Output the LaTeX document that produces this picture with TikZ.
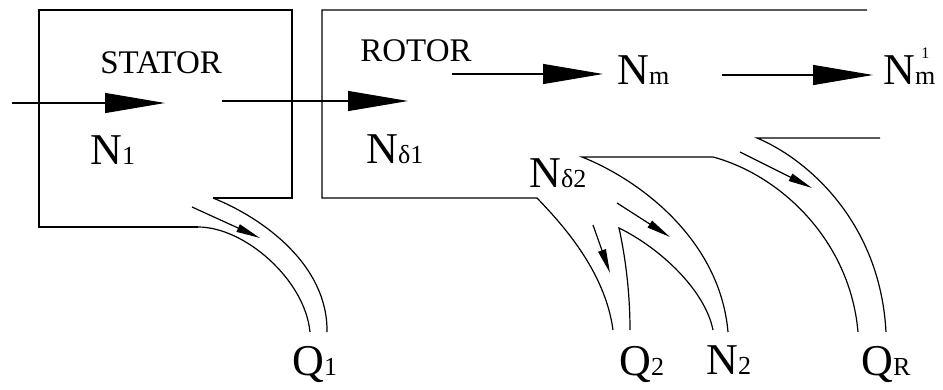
\documentclass[tikz,border=0pt]{standalone}
\usepackage{fontspec}
\setmainfont{Liberation Serif}
\usetikzlibrary{arrows.meta}

\newcommand{\bigsym}{\fontsize{22}{24}\selectfont}
\newcommand{\smallsym}{\fontsize{13}{14}\selectfont}
\newcommand{\flowsym}[2]{{\bigsym #1}{\smallsym #2}}

\begin{document}
\begin{tikzpicture}[
  x=0.5pt, y=-0.5pt,
  wall/.style={line width=0.6pt},
  flow/.style={line width=0.6pt, -{Triangle[length=30pt,width=10pt]}},
  loss/.style={line width=0.6pt, -{Triangle[length=12pt,width=4pt]}},
  part/.style={font=\fontsize{16.5}{18}\selectfont, inner sep=0pt, anchor=base west},
  sym/.style={inner sep=0pt, anchor=base west}
]
  \useasboundingbox (0,0) rectangle (943,390);

  % stator housing and its loss channel
  \draw[wall] (213,198) -- (292,198) -- (292,10) -- (39,10) -- (39,227) -- (198,227);
  \draw[wall] (198,227) .. controls (245,227) and (305,280) .. (310,332);
  \draw[wall] (213,198) .. controls (263,218) and (328,265) .. (327,332);

  % rotor housing and its channels
  \draw[wall] (867,10) -- (322,10) -- (322,198) -- (537,198) .. controls (560,222) and (605,270) .. (613,330);
  \draw[wall] (630,330) .. controls (630,295) and (626,260) .. (619,228) .. controls (660,248) and (705,290) .. (713,330);
  \draw[wall] (728,332) .. controls (720,240) and (640,180) .. (582,157) -- (713,157) .. controls (780,175) and (850,240) .. (858,332);
  \draw[wall] (880,138) -- (757,138) .. controls (805,158) and (880,220) .. (886,332);

  \node[part] (stator) at (100,74) {STATOR};
  \node[part] (rotor) at (360,62) {ROTOR};

  \node[sym] (n1) at (90,165) {\flowsym{N}{1}};
  \node[sym] (nd1) at (366,163) {\flowsym{N}{δ1}};
  \node[sym] (nd2) at (529,187) {\flowsym{N}{δ2}};
  \node[sym] (nm) at (617,85) {\flowsym{N}{m}};
  \node[sym] (nmm) at (883,85) {{\bigsym N}{\smallsym m}};
  \node[sym, font=\fontsize{8}{8}\selectfont] (nmsup) at (921,59) {1};
  \node[sym] (q1) at (292,375) {\flowsym{Q}{1}};
  \node[sym] (q2) at (619,375) {\flowsym{Q}{2}};
  \node[sym] (n2) at (706,374) {\flowsym{N}{2}};
  \node[sym] (qr) at (861,375) {\flowsym{Q}{R}};

  \coordinate (in) at (12,103);
  \coordinate (stin) at (165,103);
  \coordinate (stout) at (222,101);
  \coordinate (rtin) at (408,101);
  \coordinate (rtout) at (452,74);
  \coordinate (mech) at (603,74);
  \coordinate (mechout) at (722,75);
  \coordinate (shaft) at (873,75);

  \draw[flow] (in) -- (stin);
  \draw[flow] (stout) -- (rtin);
  \draw[flow] (rtout) -- (mech);
  \draw[flow] (mechout) -- (shaft);

  \draw[loss] (192,207) -- (260,238);
  \draw[loss] (593,225) -- (610,273);
  \draw[loss] (617,203) -- (670,237);
  \draw[loss] (740,152) -- (812,188);
\end{tikzpicture}
\end{document}
